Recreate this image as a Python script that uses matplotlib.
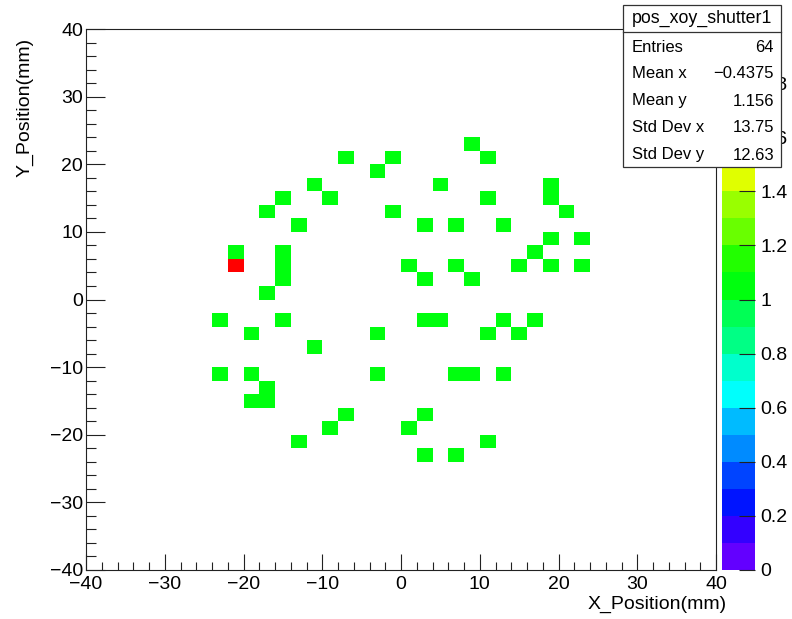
"""pos_xoy_shutter1: 2D hit map drawn in ROOT COLZ style."""

import colorsys

import matplotlib

matplotlib.use("Agg")
import matplotlib.pyplot as plt
import numpy as np
from matplotlib.colors import BoundaryNorm, ListedColormap
from matplotlib.patches import Rectangle
from matplotlib.ticker import FormatStrFormatter, MultipleLocator

# Bin centres (mm) of the filled 2 mm x 2 mm cells and their contents
X_CENTERS = [
    9,
    -7, -1, 11,
    -3,
    -11, 5, 19,
    -15, -9, 11, 19,
    -17, -1, 21,
    -13, 3, 7, 13,
    19, 23,
    -21, -15, 17,
    -21, -15, 1, 7, 15, 19, 23,
    -15, 3, 9,
    -17,
    -23, -15, 3, 5, 13, 17,
    -19, -3, 11, 15,
    -11,
    -23, -19, -3, 7, 9, 13,
    -17,
    -19, -17,
    -7, 3,
    -9, 1,
    -13, 11,
    3, 7,
]
Y_CENTERS = (
    [23] * 1 + [21] * 3 + [19] * 1 + [17] * 3 + [15] * 4 + [13] * 3
    + [11] * 4 + [9] * 2 + [7] * 3 + [5] * 7 + [3] * 3 + [1] * 1
    + [-3] * 6 + [-5] * 4 + [-7] * 1 + [-11] * 6 + [-13] * 1 + [-15] * 2
    + [-17] * 2 + [-19] * 2 + [-21] * 2 + [-23] * 2
)
CONTENTS = [1] * len(X_CENTERS)
CONTENTS[24] = 2  # the red cell at (-21, 5)

STATS_TITLE = "pos_xoy_shutter1"
STATS_ROWS = [
    ("Entries", "64"),
    ("Mean x", "\u22120.4375"),
    ("Mean y", "1.156"),
    ("Std Dev x", "13.75"),
    ("Std Dev y", "12.63"),
]

W, H = 792, 619
FONT = ["Liberation Sans", "DejaVu Sans"]
plt.rcParams["font.family"] = FONT


def px(v):
    """Pixels to points at dpi 100."""
    return v * 0.72


# ROOT "pretty" palette (violet -> red, 50 colours) sampled for 20 contours
n_cont, n_pal = 20, 50
pal_colors = []
for k in range(n_cont):
    idx = int((k + 0.99) * n_pal / n_cont)
    hue = max(280 - (idx + 1) * 5.6, 0)
    pal_colors.append(colorsys.hls_to_rgb(hue / 360.0, 0.5, 1.0))
cmap = ListedColormap(pal_colors)
cmap.set_over(pal_colors[-1])
levels = np.linspace(0, 2, n_cont + 1)
norm = BoundaryNorm(levels, cmap.N)

fig = plt.figure(figsize=(W / 100, H / 100), dpi=100)
ax = fig.add_axes([86 / W, 1 - 570 / H, 630 / W, 541 / H])
cax = fig.add_axes([722 / W, 1 - 570 / H, 33 / W, 541 / H])

edges = np.arange(-40, 40.1, 2)
_, _, _, mesh = ax.hist2d(
    X_CENTERS, Y_CENTERS, bins=[edges, edges], weights=CONTENTS,
    cmap=cmap, norm=norm, cmin=0.5,
)

ax.set_xlim(-40, 40)
ax.set_ylim(-40, 40)
ax.xaxis.set_major_locator(MultipleLocator(10))
ax.xaxis.set_minor_locator(MultipleLocator(2))
ax.yaxis.set_major_locator(MultipleLocator(10))
ax.yaxis.set_minor_locator(MultipleLocator(2))
ax.tick_params(axis="both", which="both", direction="in", top=False, right=False,
               width=0.8, color="#222222", labelsize=14)
ax.tick_params(axis="x", which="major", length=px(16), pad=4)
ax.tick_params(axis="x", which="minor", length=px(8))
ax.tick_params(axis="y", which="major", length=px(19), pad=2)
ax.tick_params(axis="y", which="minor", length=px(9.5))
for sp in ax.spines.values():
    sp.set_linewidth(0.8)
    sp.set_color("#222222")

# colour scale
cb = fig.colorbar(mesh, cax=cax, ticks=np.arange(0, 2.01, 0.2))
cb.outline.set_visible(False)
cb.ax.yaxis.set_major_formatter(FormatStrFormatter("%g"))
cb.ax.minorticks_off()
cb.ax.tick_params(direction="in", length=px(16), width=0.8, color="#222222",
                  labelsize=14, pad=4)

# axis titles (ROOT puts them at the end of the axes)
fig.text(727 / W, 1 - 604 / H, "X_Position(mm)", ha="right", va="center",
         fontsize=14)
fig.text(25 / W, 1 - 38 / H, "Y_Position(mm)", ha="center", va="top",
         rotation=90, fontsize=14)

# statistics box
x0, x1, y0, y1 = 623, 781, 5, 167
fig.add_artist(Rectangle((x0 / W, 1 - y1 / H), (x1 - x0) / W, (y1 - y0) / H,
                         transform=fig.transFigure, facecolor="white",
                         edgecolor="#333333", linewidth=0.9, zorder=10))
fig.add_artist(plt.Line2D([x0 / W, x1 / W], [1 - 32 / H, 1 - 32 / H],
                          transform=fig.transFigure, color="#333333",
                          linewidth=0.9, zorder=11))
fig.text((x0 + x1) / 2 / W, 1 - 18.5 / H, STATS_TITLE, ha="center",
         va="center", fontsize=12.8, zorder=12)
row_y = [47, 74, 101, 128, 155]
for (name, val), yy in zip(STATS_ROWS, row_y):
    fig.text(632 / W, 1 - yy / H, name, ha="left", va="center", fontsize=12,
             zorder=12)
    fig.text(774 / W, 1 - yy / H, val, ha="right", va="center", fontsize=12,
             zorder=12)

fig.savefig("out.png", dpi=100)
